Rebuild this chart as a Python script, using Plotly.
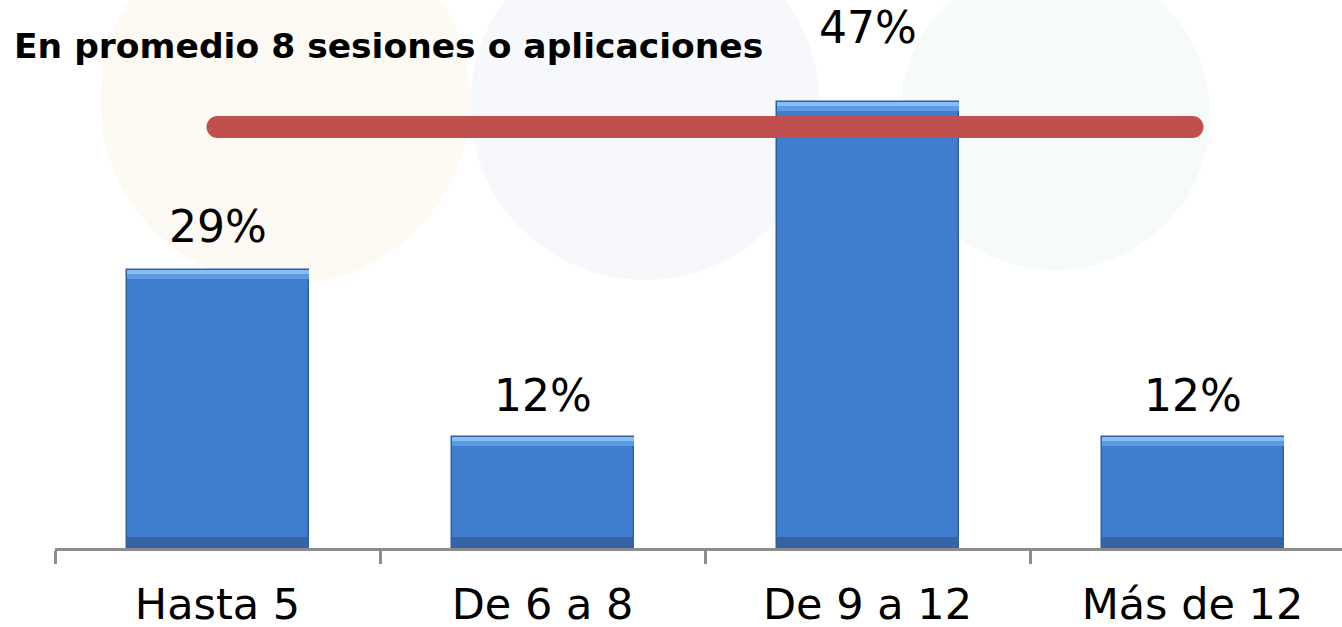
import plotly.graph_objects as go

categories = ["Hasta 5", "De 6 a 8", "De 9 a 12", "Más de 12"]
values = [29.3, 11.7, 47.0, 11.7]
labels = ["29%", "12%", "47%", "12%"]
label_shift = [16, 14, 47, 14]
avg_line_value = 44.36
title_text = "En promedio 8 sesiones o aplicaciones"

FONT = "DejaVu Sans"
BAR_W = 0.56

fig = go.Figure()

# main bars
fig.add_trace(go.Bar(
    x=categories, y=values, width=BAR_W,
    marker=dict(color="#3F7ECF", line=dict(color="#2F5F9F", width=1.5)),
    hoverinfo="skip", showlegend=False,
))
# top bevel (two tones)
fig.add_trace(go.Bar(
    x=categories, y=[1.0] * len(values), base=[v - 1.0 for v in values], width=BAR_W,
    marker=dict(color="#5C9BE4", line=dict(width=0)),
    hoverinfo="skip", showlegend=False,
))
fig.add_trace(go.Bar(
    x=categories, y=[0.45] * len(values), base=[v - 0.45 for v in values], width=BAR_W,
    marker=dict(color="#86BEF4", line=dict(width=0)),
    hoverinfo="skip", showlegend=False,
))
# bottom shade
fig.add_trace(go.Bar(
    x=categories, y=[1.2] * len(values), base=[0] * len(values), width=BAR_W,
    marker=dict(color="#3464A6", line=dict(width=0)),
    hoverinfo="skip", showlegend=False,
))

# average line with rounded ends
fig.add_trace(go.Scatter(
    x=[categories[0], categories[-1]], y=[avg_line_value, avg_line_value],
    mode="lines+markers",
    line=dict(color="#C0504D", width=22),
    marker=dict(color="#C0504D", size=22, line=dict(width=0)),
    hoverinfo="skip", showlegend=False,
))

for c, v, t, s in zip(categories, values, labels, label_shift):
    fig.add_annotation(x=c, y=v, text=t, showarrow=False, yanchor="bottom",
                       yshift=s, font=dict(family=FONT, size=44, color="#000000"))

fig.add_annotation(xref="paper", yref="paper", x=-0.0334, y=1.0, xanchor="left", yanchor="top",
                   yshift=-24, text="<b>" + title_text + "</b>", showarrow=False,
                   font=dict(family=FONT, size=34.5, color="#000000"))

# very faint watermark circles (page coords -> paper)
PL, PT, PW, PH = 55, 0, 1287, 548
for (cx, cy, r, col) in [(285, 100, 185, "#FDF9F3"),
                         (645, 105, 175, "#F6F8FB"),
                         (1055, 115, 155, "#F7FBF7")]:
    fig.add_shape(type="circle", xref="paper", yref="paper", layer="below",
                  x0=(cx - r - PL) / PW, x1=(cx + r - PL) / PW,
                  y0=(PT + PH - cy - r) / PH, y1=(PT + PH - cy + r) / PH,
                  fillcolor=col, line=dict(width=0))

fig.update_layout(
    width=1342, height=627,
    margin=dict(l=55, r=0, t=0, b=79, autoexpand=False),
    paper_bgcolor="white", plot_bgcolor="rgba(0,0,0,0)",
    barmode="overlay", bargap=0,
    xaxis=dict(
        type="category", range=[-0.5, 3.46], automargin=False,
        showline=True, linecolor="#8C8C8C", linewidth=3,
        ticks="outside", tickson="boundaries", ticklen=13, tickwidth=3, tickcolor="#8C8C8C",
        ticklabelstandoff=16,
        tickfont=dict(family=FONT, size=43, color="#000000"),
        showgrid=False, zeroline=False,
    ),
    yaxis=dict(visible=False, automargin=False, range=[0, 57.74], showgrid=False, zeroline=False),
)

fig.write_html(
    "out.html",
    config={"displayModeBar": False},
    post_script="document.body.style.margin='0';document.documentElement.style.overflow='hidden';",
)
